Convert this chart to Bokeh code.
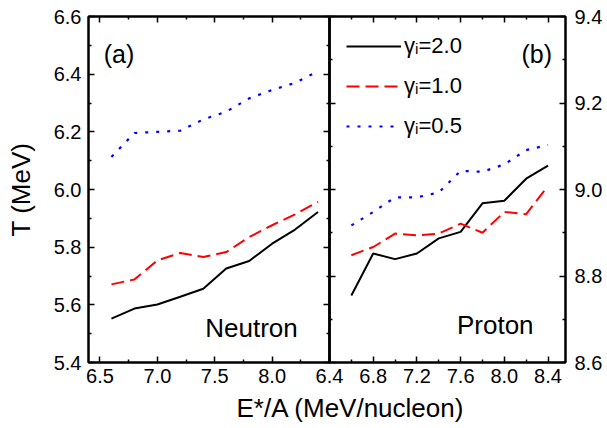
from bokeh.plotting import figure
from bokeh.layouts import row
from bokeh.models import (Range1d, FixedTicker, LinearAxis, Legend, LegendItem, Label, Title,
                          PrintfTickFormatter, CustomLabelingPolicy)
from bokeh.embed import file_html
from bokeh.resources import INLINE

# ---------------- data ----------------
x_energy = [6.6, 6.8, 7.0, 7.2, 7.4, 7.6, 7.8, 8.0, 8.2, 8.4]

neutron_g20 = [5.552, 5.587, 5.601, 5.628, 5.656, 5.726, 5.752, 5.812, 5.861, 5.922]
neutron_g10 = [5.671, 5.688, 5.754, 5.780, 5.766, 5.783, 5.835, 5.876, 5.914, 5.957]
neutron_g05 = [6.113, 6.196, 6.200, 6.204, 6.243, 6.270, 6.316, 6.345, 6.370, 6.410]

proton_g20 = [8.755, 8.852, 8.839, 8.852, 8.887, 8.902, 8.968, 8.974, 9.025, 9.055]
proton_g10 = [8.848, 8.867, 8.898, 8.894, 8.898, 8.921, 8.900, 8.948, 8.943, 9.008]
proton_g05 = [8.917, 8.948, 8.982, 8.982, 8.993, 9.043, 9.041, 9.058, 9.091, 9.103]

series_labels = ["γᵢ=2.0", "γᵢ=1.0", "γᵢ=0.5"]

left_x_major = [6.5, 7.0, 7.5, 8.0]
left_x_minor = [6.75, 7.25, 7.75, 8.25]
left_y_major = [5.4, 5.6, 5.8, 6.0, 6.2, 6.4, 6.6]
left_y_minor = [5.5, 5.7, 5.9, 6.1, 6.3, 6.5]
right_x_major = [6.4, 6.8, 7.2, 7.6, 8.0, 8.4]
right_x_minor = [6.6, 7.0, 7.4, 7.8, 8.2]
right_y_major = [8.6, 8.8, 9.0, 9.2, 9.4]
right_y_minor = [8.7, 8.9, 9.1, 9.3]

FONT = "Liberation Sans"
TICK_FS = "20px"
TITLE_FS = "26px"

styles_line = [
    dict(line_color="black", line_width=2, line_dash="solid"),
    dict(line_color="red", line_width=2, line_dash="13 6"),
    dict(line_color="blue", line_width=2.2, line_dash="3 8"),
]


def axis(ticks, minor, labels=True, standoff=7):
    ax = LinearAxis(ticker=FixedTicker(ticks=ticks, minor_ticks=minor))
    ax.formatter = PrintfTickFormatter(format="%.1f")
    ax.axis_line_width = 2
    ax.axis_line_color = "black"
    ax.major_tick_in = 6
    ax.major_tick_out = 0
    ax.minor_tick_in = 3
    ax.minor_tick_out = 0
    ax.major_tick_line_width = 1.5
    ax.minor_tick_line_width = 1.5
    ax.major_tick_line_color = "black"
    ax.minor_tick_line_color = "black"
    ax.major_label_text_font = FONT
    ax.major_label_text_color = "black"
    if labels:
        ax.major_label_text_font_size = TICK_FS
        ax.major_label_standoff = standoff
    else:
        ax.major_label_text_font_size = "1px"
        ax.major_label_standoff = 0
        ax.major_label_policy = CustomLabelingPolicy(code="return []")
    ax.axis_label_text_font = FONT
    ax.axis_label_text_font_style = "normal"
    ax.axis_label_text_font_size = TITLE_FS
    ax.axis_label_text_color = "black"
    return ax


def base_fig(width, xr, yr, bl, br):
    p = figure(width=width, height=428, x_range=xr, y_range=yr,
               output_backend="svg", toolbar_location=None,
               x_axis_location=None, y_axis_location=None,
               min_border_left=bl, min_border_right=br,
               min_border_top=16, min_border_bottom=66)
    p.grid.visible = False
    p.outline_line_color = "black"
    p.outline_line_width = 2
    return p


def text_label(x, y, txt, size=TITLE_FS):
    return Label(x=x, y=y, text=txt, text_font=FONT, text_font_size=size,
                 text_align="center", text_baseline="alphabetic", text_color="black")


# ---------------- left panel (neutron) ----------------
p1 = base_fig(479, Range1d(6.4, 8.5), Range1d(5.4, 6.6), 88, 150)
p1.background_fill_color = None
p1.add_layout(axis(left_x_major, left_x_minor, True, 6), "below")
p1.add_layout(axis(left_x_major, left_x_minor, False), "above")
ay = axis(left_y_major, left_y_minor, True, 7)
ay.axis_label = "T (MeV)"
ay.axis_label_standoff = 15
p1.add_layout(ay, "left")
p1.add_layout(axis(left_y_major, left_y_minor, False), "right")

xtitle = Title(text="E*/A (MeV/nucleon)", align="left", offset=148, standoff=11,
               text_font=FONT, text_font_size=TITLE_FS, text_font_style="normal",
               text_color="black")
p1.add_layout(xtitle, "below")

for ys, st in zip([neutron_g20, neutron_g10, neutron_g05], styles_line):
    p1.line(x_energy, ys, **st)

p1.add_layout(text_label(6.666, 6.470, "(a)", "25px"))
p1.add_layout(text_label(7.82, 5.518, "Neutron"))

# ---------------- right panel (proton) ----------------
p2 = base_fig(292, Range1d(6.4, 8.56), Range1d(8.6, 9.4), 14, 42)
p2.background_fill_color = None
p2.border_fill_color = None
p2.add_layout(axis(right_x_major, right_x_minor, True, 6), "below")
p2.add_layout(axis(right_x_major, right_x_minor, False), "above")
p2.add_layout(axis(right_y_major, right_y_minor, False), "left")
p2.add_layout(axis(right_y_major, right_y_minor, True, 9), "right")

rends = []
for ys, st in zip([proton_g20, proton_g10, proton_g05], styles_line):
    rends.append(p2.line(x_energy, ys, **st))

p2.add_layout(text_label(8.297, 9.314, "(b)", "25px"))
p2.add_layout(text_label(7.917, 8.686, "Proton"))

legend = Legend(items=[LegendItem(label=lab, renderers=[r]) for lab, r in zip(series_labels, rends)],
                location="top_left")
legend.border_line_color = None
legend.background_fill_alpha = 0
legend.label_text_font = FONT
legend.label_text_font_size = "22px"
legend.label_text_color = "black"
legend.glyph_width = 55
legend.glyph_height = 26
legend.label_height = 26
legend.label_standoff = 3
legend.spacing = 14
legend.padding = 0
legend.margin = 17
p2.add_layout(legend)

p2.styles = {"margin-left": "-164px"}

layout = row(p1, p2)
open("out.html", "w").write(file_html(layout, INLINE))
